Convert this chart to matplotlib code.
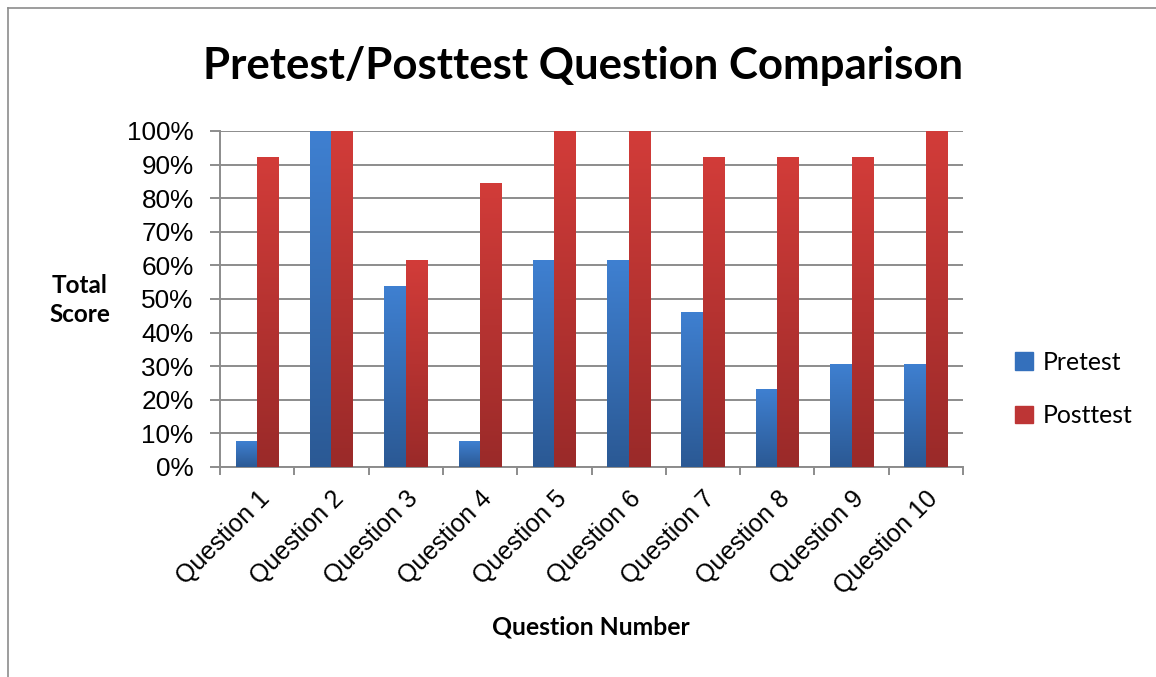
import numpy as np
import matplotlib
matplotlib.use("Agg")
import matplotlib.pyplot as plt
from matplotlib.colors import LinearSegmentedColormap
from matplotlib.ticker import PercentFormatter, FixedLocator
from matplotlib.lines import Line2D

categories = ["Question 1", "Question 2", "Question 3", "Question 4", "Question 5",
              "Question 6", "Question 7", "Question 8", "Question 9", "Question 10"]
pretest = [7.7, 100, 53.8, 7.7, 61.5, 61.5, 46.2, 23.1, 30.8, 30.8]
posttest = [92.3, 100, 61.5, 84.6, 100, 100, 92.3, 92.3, 92.3, 100]
series_names = ["Pretest", "Posttest"]

title_font = "Lato"
tick_font = "Liberation Sans"

fig = plt.figure(figsize=(11.56, 6.77), dpi=100)
ax = fig.add_axes([220/1156, 1-467/677, (963-220)/1156, (467-131)/677])

x = np.arange(len(categories))
w = 0.29
grid_c = "#8c8c8c"

blue_cmap = LinearSegmentedColormap.from_list("b", ["#2b5994", "#3f80d1"])
red_cmap = LinearSegmentedColormap.from_list("r", ["#9a2a29", "#d23c39"])

b1 = ax.bar(x - w/2, np.array(pretest)/100, w, color="#3a74bf", zorder=3, label=series_names[0])
b2 = ax.bar(x + w/2, np.array(posttest)/100, w, color="#c0373a", zorder=3, label=series_names[1])

grad = np.linspace(0, 1, 256).reshape(-1, 1)
for bars, cmap in ((b1, blue_cmap), (b2, red_cmap)):
    for p in bars:
        x0, y0 = p.get_x(), p.get_y()
        x1, y1 = x0 + p.get_width(), y0 + p.get_height()
        im = ax.imshow(grad, cmap=cmap, extent=(x0, x1, y0, y1), origin="lower",
                       aspect="auto", zorder=4, interpolation="bicubic")
        im.set_clip_path(p)

ax.set_xlim(-0.5, len(categories) - 0.5)
ax.set_ylim(0, 1)
ax.set_aspect("auto")

ax.set_yticks(np.linspace(0, 1, 11))
ax.yaxis.set_major_formatter(PercentFormatter(1.0, decimals=0))
ax.yaxis.grid(True, color=grid_c, linewidth=1.4, zorder=0)
ax.set_axisbelow(True)

ax.set_xticks(x)
ax.set_xticklabels(categories, rotation=45, ha="right", rotation_mode="anchor",
                   fontsize=18, family=tick_font)
ax.xaxis.set_minor_locator(FixedLocator(np.arange(-0.5, len(categories), 1.0)))
ax.tick_params(axis="x", which="major", length=0, pad=14)
ax.tick_params(axis="x", which="minor", length=6, width=1.4, color=grid_c)
ax.tick_params(axis="y", length=7, width=1.4, color=grid_c, labelsize=18.8, pad=12)
for lab in ax.get_yticklabels():
    lab.set_family(tick_font)

for s in ("top", "right"):
    ax.spines[s].set_visible(False)
for s in ("left", "bottom"):
    ax.spines[s].set_color(grid_c)
    ax.spines[s].set_linewidth(1.4)

fig.text(583/1156, 1-66/677, "Pretest/Posttest Question Comparison", ha="center", va="center",
         fontsize=31.5, fontweight="bold", family=title_font)
fig.text(80/1156, 1-300/677, "Total\nScore", ha="center", va="center",
         fontsize=17.5, fontweight="bold", family=title_font, linespacing=1.3)
fig.text(591/1156, 1-627/677, "Question Number", ha="center", va="center",
         fontsize=17.8, fontweight="bold", family=title_font)

leg = ax.legend(handles=[b1, b2], labels=series_names, loc="center left",
                bbox_to_anchor=(993/1156, 1-389/677), bbox_transform=fig.transFigure,
                frameon=False, prop={"family": title_font, "size": 17.8},
                handlelength=0.7, handleheight=0.7, handletextpad=0.4, labelspacing=1.25)
leg.legend_handles[0].set_color("#3470bc")
leg.legend_handles[1].set_color("#bd3535")

fig.add_artist(Line2D([8/1156, 8/1156], [0, 1-8/677], transform=fig.transFigure,
                      color="#8c8c8c", linewidth=1.2))
fig.add_artist(Line2D([8/1156, 1], [1-8/677, 1-8/677], transform=fig.transFigure,
                      color="#8c8c8c", linewidth=1.2))

fig.savefig("out.png", dpi=100)
